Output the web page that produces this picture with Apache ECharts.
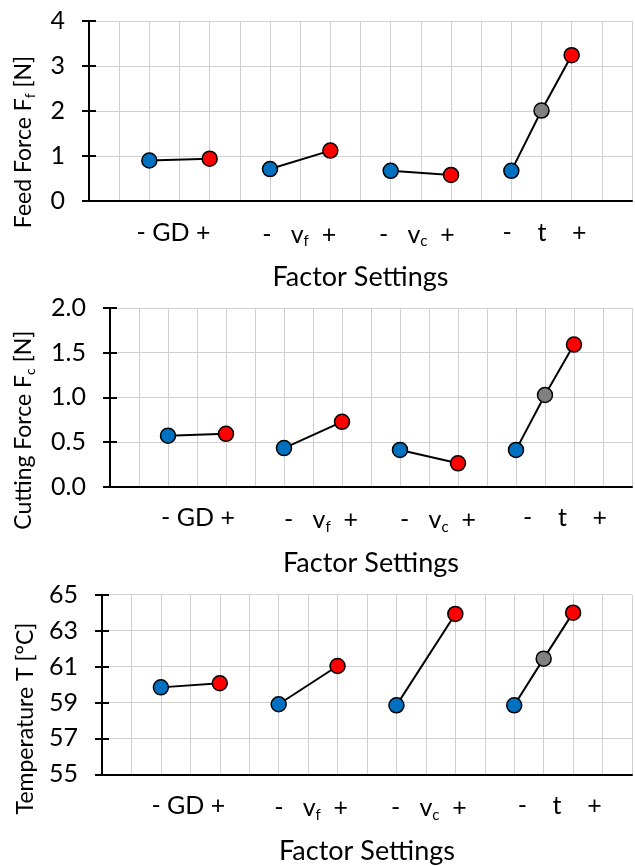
<!DOCTYPE html>
<html>
<head>
<meta charset="utf-8">
<script src="https://cdn.jsdelivr.net/npm/echarts@6/dist/echarts.min.js"></script>
<style>
  html, body { margin: 0; padding: 0; background: #fff; }
  #chart { width: 635px; height: 866px; }
</style>
</head>
<body>
<div id="chart"></div>
<script>
// category slots along the x axis (each factor: low / centre / high)
const slots = ['a', 'b', 'GD-', 'GD', 'GD+', 'c', 'vf-', 'vf', 'vf+', 'd',
  'vc-', 'vc', 'vc+', 'e', 't-', 't', 't+', 'f', 'g'];
const tickLabels = {
  GD: '- GD +',
  vf: '-   v{s|f}  +',
  vc: '-   v{s|c}  +',
  t: '-    t    +'
};
const labelSlots = ['GD', 'vf', 'vc', 't'];

// factor levels plotted for each factor
const levelsGD = ['GD-', 'GD+'];
const levelsVf = ['vf-', 'vf+'];
const levelsVc = ['vc-', 'vc+'];
const levelsT = ['t-', 't', 't+'];

// Feed force Ff [N]
const feedGD = [0.90, 0.94];
const feedVf = [0.71, 1.12];
const feedVc = [0.67, 0.58];
const feedT = [0.67, 2.01, 3.24];

// Cutting force Fc [N]
const cutGD = [0.57, 0.59];
const cutVf = [0.43, 0.725];
const cutVc = [0.41, 0.26];
const cutT = [0.41, 1.025, 1.59];

// Temperature T [°C]
const tempGD = [59.84, 60.07];
const tempVf = [58.90, 61.03];
const tempVc = [58.84, 63.93];
const tempT = [58.84, 61.44, 64.00];

const FONT = 'Lato';
const GRID_COLOR = '#d0d0d0';
const levelColor = name => name.endsWith('-') ? '#0070c0' : (name.endsWith('+') ? '#ff0000' : '#808080');

const chart = echarts.init(document.getElementById('chart'));

const grids = [
  { left: 89, right: -5, top: 21, height: 180 },
  { left: 110, right: -4, top: 308, height: 178.5 },
  { left: 102, right: -3, top: 594.7, height: 179.6 }
];

// nameShift = nudge of the y title along the axis, labelShift = nudge of each factor label
const panels = [
  { name: 'Feed Force F{s|f} [N]', min: 0, max: 4, interval: 1, digits: 0, nameGap: 52, nameShift: 62,
    labelShift: [-6, -1, -4, 3], values: [feedGD, feedVf, feedVc, feedT] },
  { name: 'Cutting Force F{s|c} [N]', min: 0, max: 2, interval: 0.5, digits: 1, nameGap: 73, nameShift: 66,
    labelShift: [1, 8, 9, 20], values: [cutGD, cutVf, cutVc, cutT] },
  { name: 'Temperature T [°C]', min: 55, max: 65, interval: 2, digits: 0, nameGap: 65, nameShift: 68,
    labelShift: [-2, 3, 3, 16], values: [tempGD, tempVf, tempVc, tempT] }
];
const levelSets = [levelsGD, levelsVf, levelsVc, levelsT];

const sub = { fontSize: 15, fontFamily: FONT, color: '#000', padding: [14, 0, 0, 0] };

const xAxis = [];
const yAxis = [];
const series = [];

panels.forEach((p, i) => {
  // small empty boxes that nudge each factor label sideways
  const rich = { s: sub };
  labelSlots.forEach((k, j) => { rich['g' + j] = { width: Math.abs(p.labelShift[j]) * 2 }; });

  xAxis.push({
    type: 'category',
    gridIndex: i,
    data: slots,
    boundaryGap: false,
    name: 'Factor Settings',
    nameLocation: 'middle',
    nameGap: 63,
    nameTextStyle: { fontFamily: FONT, fontSize: 27, color: '#000' },
    axisLine: { lineStyle: { color: '#000', width: 2 } },
    axisTick: { show: false },
    axisLabel: {
      interval: 0,
      margin: 19,
      fontFamily: FONT,
      fontSize: 25,
      color: '#000',
      formatter: v => {
        const j = labelSlots.indexOf(v);
        if (j < 0) return '';
        const gap = '{g' + j + '|}';
        return p.labelShift[j] < 0 ? tickLabels[v] + gap : gap + tickLabels[v];
      },
      rich
    },
    splitLine: { show: true, interval: 0, lineStyle: { color: GRID_COLOR, width: 1 } }
  });
  yAxis.push({
    type: 'value',
    gridIndex: i,
    min: p.min,
    max: p.max,
    interval: p.interval,
    // empty box at the end of the title moves it down along the axis
    name: p.name + '{gap|}',
    nameLocation: 'middle',
    nameGap: p.nameGap,
    nameTextStyle: {
      fontFamily: FONT, fontSize: 23, color: '#000',
      rich: { s: { ...sub, fontSize: 14, padding: [13, 0, 0, 0] }, gap: { width: p.nameShift } }
    },
    axisLine: { show: true, lineStyle: { color: '#000', width: 2 } },
    axisTick: { show: true, length: 7, lineStyle: { color: '#000', width: 2 } },
    axisLabel: {
      margin: 24,
      fontFamily: FONT,
      fontSize: 25,
      color: '#000',
      formatter: v => v.toFixed(p.digits)
    },
    splitLine: { show: true, lineStyle: { color: GRID_COLOR, width: 1 } }
  });
  // second copy of the axis, only to draw the tick marks inside the plot (Excel cross ticks)
  yAxis.push({
    type: 'value',
    gridIndex: i,
    min: p.min,
    max: p.max,
    interval: p.interval,
    position: 'left',
    axisLine: { show: false },
    axisTick: { show: true, inside: true, length: 7, lineStyle: { color: '#000', width: 2 } },
    axisLabel: { show: false },
    splitLine: { show: false }
  });

  p.values.forEach((vals, k) => {
    series.push({
      type: 'line',
      xAxisIndex: i,
      yAxisIndex: i * 2,
      symbol: 'circle',
      symbolSize: 15,
      lineStyle: { color: '#000', width: 2 },
      z: 5,
      data: vals.map((v, j) => ({
        value: [levelSets[k][j], v],
        itemStyle: { color: levelColor(levelSets[k][j]), borderColor: '#000', borderWidth: 1.5 }
      }))
    });
  });
});

chart.setOption({
  animation: false,
  grid: grids,
  xAxis,
  yAxis,
  series
});
</script>
</body>
</html>
